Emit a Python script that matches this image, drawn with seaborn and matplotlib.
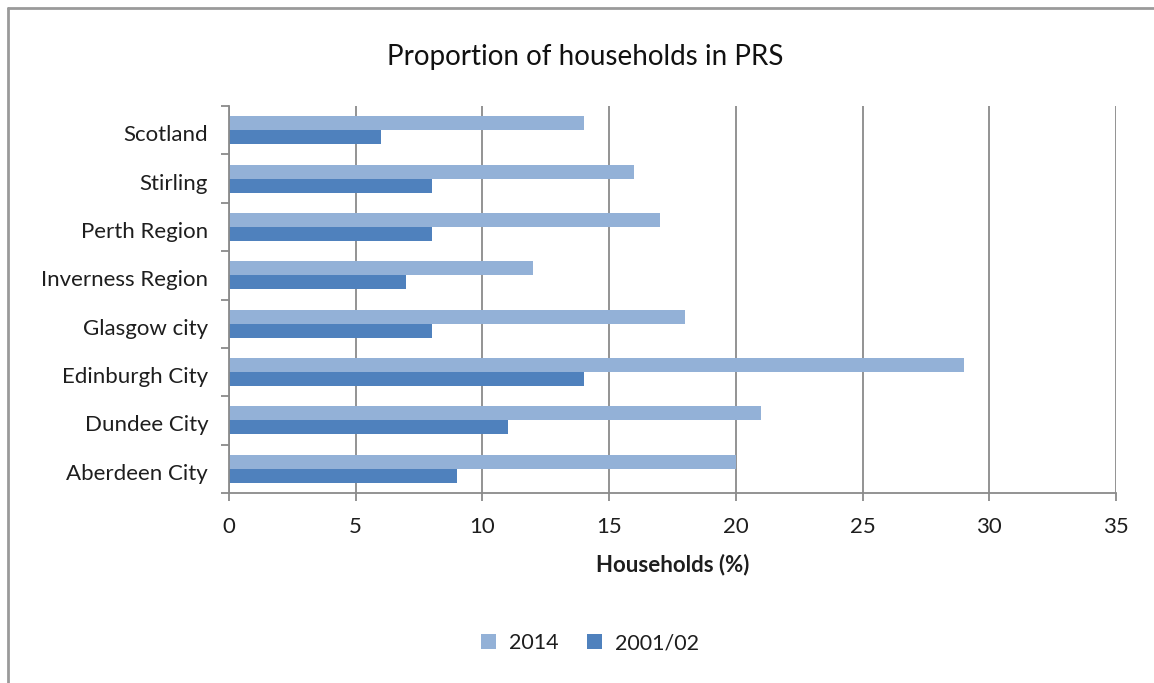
import numpy as np
import pandas as pd
import matplotlib
matplotlib.use("Agg")
import matplotlib.pyplot as plt
import matplotlib.transforms as mtransforms
from matplotlib.lines import Line2D
from matplotlib.patches import Patch
import seaborn as sns

# Share of households in the private rented sector (%)
regions = ["Scotland", "Stirling", "Perth Region", "Inverness Region",
           "Glasgow city", "Edinburgh City", "Dundee City", "Aberdeen City"]
share_2014 = [14, 16, 17, 12, 18, 29, 21, 20]
share_2001 = [6, 8, 8, 7, 8, 14, 11, 9]
series = ["2014", "2001/02"]
x_ticks = [0, 5, 10, 15, 20, 25, 30, 35]

df = pd.DataFrame({
    "Region": regions * 2,
    "Households (%)": share_2014 + share_2001,
    "Year": [series[0]] * len(regions) + [series[1]] * len(regions),
})

sns.set_theme(style="white")
plt.rcParams["font.family"] = ["Lato", "DejaVu Sans"]

colors = {"2014": "#93B1D7", "2001/02": "#4F81BD"}
text_color = "#1e1e1e"

fig = plt.figure(figsize=(11.54, 6.83), dpi=100)
ax = fig.add_axes([229 / 1154, 1 - 493 / 683, (1116 - 229) / 1154, (493 - 106) / 683])

sns.barplot(data=df, y="Region", x="Households (%)", hue="Year",
            hue_order=series, order=regions, palette=colors, orient="h",
            width=0.58, errorbar=None, linewidth=0, saturation=1,
            ax=ax, legend=False)

ax.set_xlim(0, 35)
ax.set_ylim(len(regions) - 0.5, -0.5)
ax.set_xticks(x_ticks)
ax.set_xticklabels([str(t) for t in x_ticks])
ax.xaxis.grid(True, color="#8a8a8a", linewidth=1.3)
ax.yaxis.grid(False)
ax.set_axisbelow(True)

for side in ["top", "right"]:
    ax.spines[side].set_visible(False)
for side in ["left", "bottom"]:
    ax.spines[side].set_color("#8a8a8a")
    ax.spines[side].set_linewidth(1.3)

# category separators as outward ticks on the y axis
ax.set_yticks(np.arange(-0.5, len(regions), 1), minor=True)
ax.tick_params(axis="y", which="major", length=0, pad=15, labelsize=16,
               labelcolor=text_color)
ax.tick_params(axis="y", which="minor", left=True, length=6, width=1.3,
               color="#8a8a8a", direction="out")
ax.tick_params(axis="x", which="major", bottom=True, length=6, width=1.3,
               color="#8a8a8a", direction="out", pad=11, labelsize=16,
               labelcolor=text_color)

# nudge the category labels slightly downward
nudge = mtransforms.ScaledTranslation(0, -3 / 100, fig.dpi_scale_trans)
for lbl in ax.get_yticklabels():
    lbl.set_transform(lbl.get_transform() + nudge)

ax.set_ylabel("")
ax.set_xlabel("Households (%)", fontsize=16, fontweight="bold",
              color=text_color, labelpad=12)

fig.text(585 / 1154, 1 - 57 / 683, "Proportion of households in PRS",
         ha="center", va="center", fontsize=20, color="#111111")

handles = [Patch(facecolor=colors[s], edgecolor="none") for s in series]
fig.legend(handles, series, loc="center", bbox_to_anchor=(590 / 1154, 1 - 643 / 683),
           ncol=2, frameon=False, fontsize=15.5, handlelength=0.7,
           handleheight=0.7, columnspacing=1.3, handletextpad=0.6,
           labelcolor=text_color)

# chart frame
fig.add_artist(Line2D([8 / 1154, 1], [1 - 8 / 683, 1 - 8 / 683],
                      transform=fig.transFigure, color="#9a9a9a", linewidth=2))
fig.add_artist(Line2D([8 / 1154, 8 / 1154], [0, 1 - 8 / 683],
                      transform=fig.transFigure, color="#9a9a9a", linewidth=2))

fig.savefig("out.png", dpi=100, facecolor="white")
